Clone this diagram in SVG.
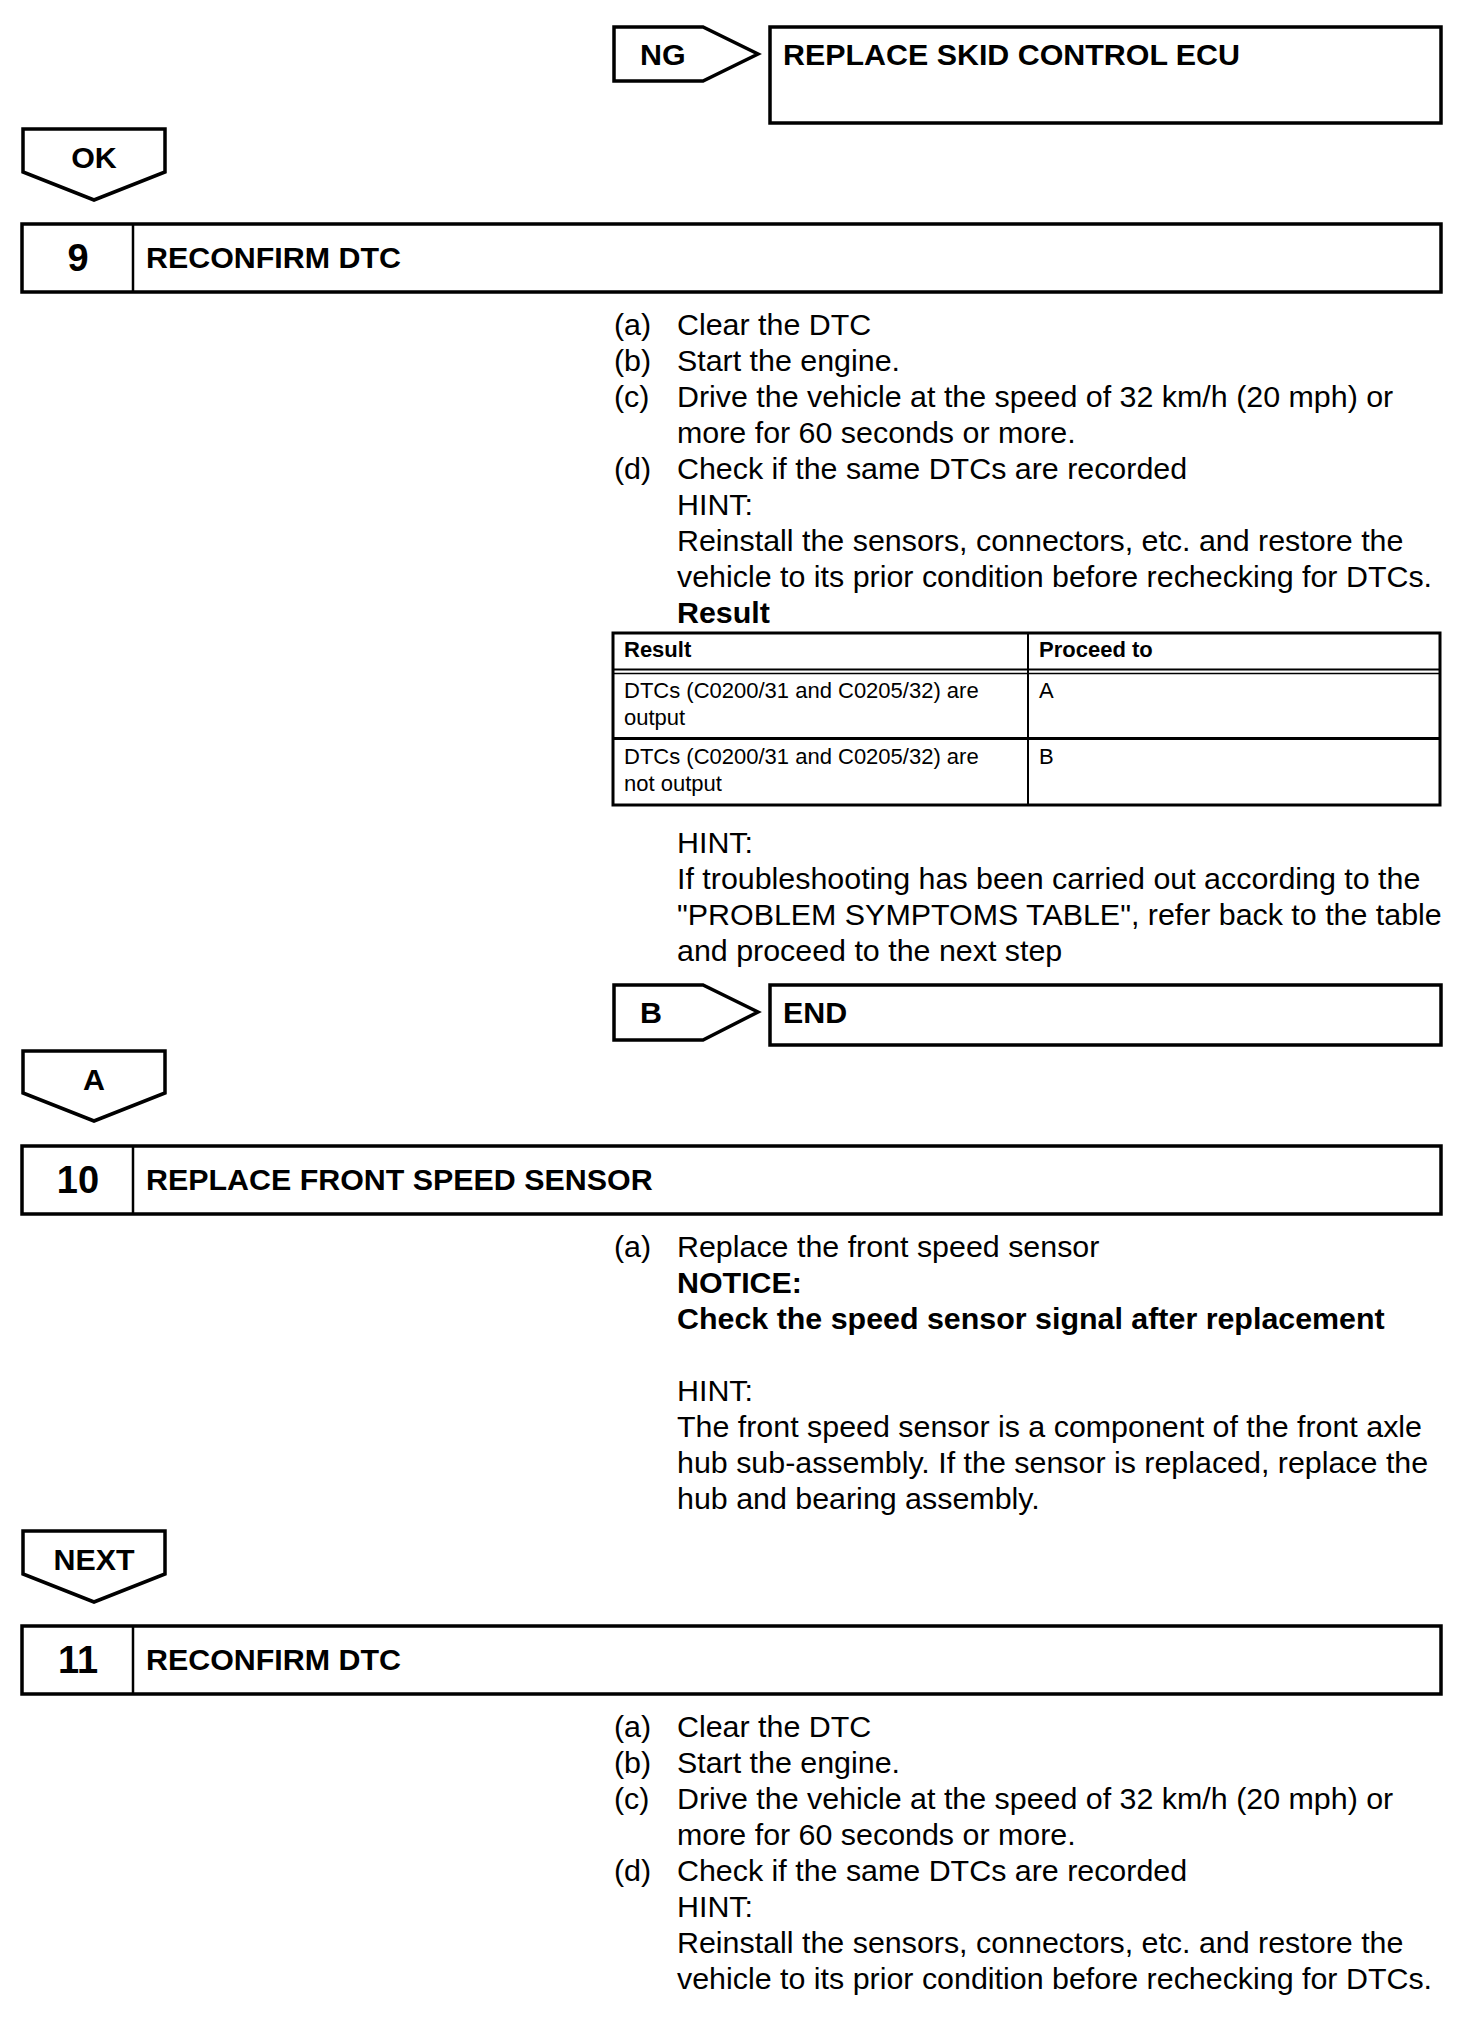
<svg xmlns="http://www.w3.org/2000/svg" width="1472" height="2022" viewBox="0 0 1472 2022">
<style>
.box{fill:#fff;stroke:#000;stroke-width:3.5}
.tag{fill:#fff;stroke:#000;stroke-width:3.5;stroke-linejoin:miter}
.div{stroke:#000;stroke-width:2.5}
.tl{stroke:#000;stroke-width:2}
.tt{stroke:#000;stroke-width:3}
text{font-family:"Liberation Sans",Arial,Helvetica,sans-serif;fill:#000}
.t{font-size:30.4px}
.b{font-size:30.4px;font-weight:bold}
.n{font-size:38px;font-weight:bold}
.s{font-size:22px}
.sb{font-size:22px;font-weight:bold}
</style>
<rect width="1472" height="2022" fill="#fff"/>

<g id="connectors">
  <g id="tag-ng">
    <path class="tag" d="M614,27 H703 L758,54 L703,81 H614 Z"/>
    <text class="b" x="640" y="65">NG</text>
  </g>
  <g id="tag-ok">
    <path class="tag" d="M23,129 H165 V172 L94,200 L23,172 Z"/>
    <text class="b" x="94" y="168" text-anchor="middle">OK</text>
  </g>
  <g id="tag-b">
    <path class="tag" d="M614,985 H703 L758,1012 L703,1040 H614 Z"/>
    <text class="b" x="640" y="1023">B</text>
  </g>
  <g id="tag-a">
    <path class="tag" d="M23,1051 H165 V1093 L94,1121 L23,1093 Z"/>
    <text class="b" x="94" y="1090" text-anchor="middle">A</text>
  </g>
  <g id="tag-next">
    <path class="tag" d="M23,1531 H165 V1574 L94,1602 L23,1574 Z"/>
    <text class="b" x="94" y="1570" text-anchor="middle">NEXT</text>
  </g>
</g>

<g id="replace-ecu">
  <rect class="box" x="770" y="27" width="671" height="96"/>
  <text class="b" x="783" y="65">REPLACE SKID CONTROL ECU</text>
</g>

<g id="step9">
  <rect class="box" x="22" y="224" width="1419" height="68"/>
  <line class="div" x1="133" y1="224" x2="133" y2="292"/>
  <text class="n" x="78" y="271" text-anchor="middle">9</text>
  <text class="b" x="146" y="268">RECONFIRM DTC</text>
</g>

<g id="step9-body">
  <text class="t" x="614" y="335">(a)</text><text class="t" x="677" y="335">Clear the DTC</text>
  <text class="t" x="614" y="371">(b)</text><text class="t" x="677" y="371">Start the engine.</text>
  <text class="t" x="614" y="407">(c)</text><text class="t" x="677" y="407">Drive the vehicle at the speed of 32 km/h (20 mph) or</text>
  <text class="t" x="677" y="443">more for 60 seconds or more.</text>
  <text class="t" x="614" y="479">(d)</text><text class="t" x="677" y="479">Check if the same DTCs are recorded</text>
  <text class="t" x="677" y="515">HINT:</text>
  <text class="t" x="677" y="551">Reinstall the sensors, connectors, etc. and restore the</text>
  <text class="t" x="677" y="587">vehicle to its prior condition before rechecking for DTCs.</text>
  <text class="b" x="677" y="623">Result</text>
</g>

<g id="result-table">
  <rect x="613" y="633" width="827" height="172" fill="none" stroke="#000" stroke-width="3"/>
  <line class="tl" x1="613" y1="669.5" x2="1440" y2="669.5"/>
  <line x1="613" y1="673.5" x2="1440" y2="673.5" stroke="#000" stroke-width="1.5"/>
  <line class="tt" x1="613" y1="738.5" x2="1440" y2="738.5"/>
  <line class="tl" x1="1028" y1="633" x2="1028" y2="805"/>
  <text class="sb" x="624" y="657">Result</text>
  <text class="sb" x="1039" y="657">Proceed to</text>
  <text class="s" x="624" y="698">DTCs (C0200/31 and C0205/32) are</text>
  <text class="s" x="624" y="725">output</text>
  <text class="s" x="1039" y="698">A</text>
  <text class="s" x="624" y="764">DTCs (C0200/31 and C0205/32) are</text>
  <text class="s" x="624" y="791">not output</text>
  <text class="s" x="1039" y="764">B</text>
</g>

<g id="hint9">
  <text class="t" x="677" y="853">HINT:</text>
  <text class="t" x="677" y="889">If troubleshooting has been carried out according to the</text>
  <text class="t" x="677" y="925">"PROBLEM SYMPTOMS TABLE", refer back to the table</text>
  <text class="t" x="677" y="961">and proceed to the next step</text>
</g>

<g id="end">
  <rect class="box" x="770" y="985" width="671" height="60"/>
  <text class="b" x="783" y="1023">END</text>
</g>

<g id="step10">
  <rect class="box" x="22" y="1146" width="1419" height="68"/>
  <line class="div" x1="133" y1="1146" x2="133" y2="1214"/>
  <text class="n" x="78" y="1193" text-anchor="middle">10</text>
  <text class="b" x="146" y="1190">REPLACE FRONT SPEED SENSOR</text>
</g>

<g id="step10-body">
  <text class="t" x="614" y="1257">(a)</text><text class="t" x="677" y="1257">Replace the front speed sensor</text>
  <text class="b" x="677" y="1293">NOTICE:</text>
  <text class="b" x="677" y="1329">Check the speed sensor signal after replacement</text>
  <text class="t" x="677" y="1401">HINT:</text>
  <text class="t" x="677" y="1437">The front speed sensor is a component of the front axle</text>
  <text class="t" x="677" y="1473">hub sub-assembly. If the sensor is replaced, replace the</text>
  <text class="t" x="677" y="1509">hub and bearing assembly.</text>
</g>

<g id="step11">
  <rect class="box" x="22" y="1626" width="1419" height="68"/>
  <line class="div" x1="133" y1="1626" x2="133" y2="1694"/>
  <text class="n" x="78" y="1673" text-anchor="middle">11</text>
  <text class="b" x="146" y="1670">RECONFIRM DTC</text>
</g>

<g id="step11-body">
  <text class="t" x="614" y="1737">(a)</text><text class="t" x="677" y="1737">Clear the DTC</text>
  <text class="t" x="614" y="1773">(b)</text><text class="t" x="677" y="1773">Start the engine.</text>
  <text class="t" x="614" y="1809">(c)</text><text class="t" x="677" y="1809">Drive the vehicle at the speed of 32 km/h (20 mph) or</text>
  <text class="t" x="677" y="1845">more for 60 seconds or more.</text>
  <text class="t" x="614" y="1881">(d)</text><text class="t" x="677" y="1881">Check if the same DTCs are recorded</text>
  <text class="t" x="677" y="1917">HINT:</text>
  <text class="t" x="677" y="1953">Reinstall the sensors, connectors, etc. and restore the</text>
  <text class="t" x="677" y="1989">vehicle to its prior condition before rechecking for DTCs.</text>
</g>
</svg>
